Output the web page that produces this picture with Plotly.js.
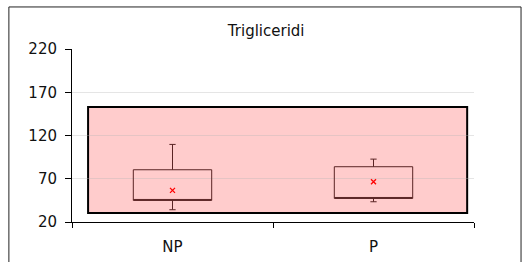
<!DOCTYPE html>
<html><head><meta charset="utf-8">
<script src="https://cdn.plot.ly/plotly-3.0.1.min.js"></script>
<style>html,body{margin:0;padding:0;background:#fff}#c{width:524px;height:262px}</style>
</head><body><div id="c"></div>
<script>
const categories = ['NP', 'P'];
const q1 = [44.9, 47.2];
const q3 = [80.4, 83.9];
const lowerWhisker = [34.2, 43.4];
const upperWhisker = [109.7, 92.7];
const means = [56.6, 66.5];
const refRange = [30.4, 153];
const yTicks = [20, 70, 120, 170, 220];

const font = {family: 'DejaVu Sans, sans-serif', size: 15, color: '#111'};

const traces = [
  {
    type: 'box', x: categories, q1: q1, median: q1, q3: q3,
    lowerfence: lowerWhisker, upperfence: upperWhisker,
    width: 0.39, whiskerwidth: 0.08, boxpoints: false,
    fillcolor: 'rgba(0,0,0,0)', line: {color: '#5a2424', width: 1},
    hoverinfo: 'skip', showlegend: false
  },
  {
    type: 'scatter', mode: 'markers', x: categories, y: means,
    marker: {symbol: 'x-thin-open', size: 5, color: '#ff0000', line: {color: '#ff0000', width: 1.3}},
    showlegend: false, hoverinfo: 'skip'
  }
];

const layout = {
  width: 524, height: 262,
  margin: {l: 72, r: 50, t: 49, b: 40},
  paper_bgcolor: '#fff', plot_bgcolor: 'rgba(0,0,0,0)',
  font: font,
  title: {text: 'Trigliceridi', font: {family: font.family, size: 15, color: '#111'}, x: 0.508, xanchor: 'center', y: 0.882, yanchor: 'middle'},
  xaxis: {
    type: 'category', range: [-0.5, 1.5], tickson: 'boundaries',
    ticks: 'outside', ticklen: 5, tickcolor: '#000', showline: true, linecolor: '#000', linewidth: 1,
    showgrid: false, ticklabelstandoff: 11, tickfont: {family: font.family, size: 15, color: '#111'}
  },
  yaxis: {
    range: [20, 220], tickvals: yTicks, ticktext: yTicks.map(String),
    ticks: 'outside', ticklen: 6, tickcolor: '#000', showline: true, linecolor: '#000', linewidth: 1,
    showgrid: true, gridcolor: 'rgba(180,180,180,0.35)', zeroline: false, ticklabelstandoff: 5,
    tickfont: {family: font.family, size: 15, color: '#111'}
  },
  shapes: [
    {type: 'rect', layer: 'below', xref: 'paper', yref: 'y', x0: 0.04, x1: 0.983, y0: refRange[0], y1: refRange[1],
     fillcolor: '#ffcccc', line: {color: '#000', width: 2}},
    {type: 'rect', layer: 'above', xref: 'paper', yref: 'paper', x0: -0.157, x1: 1.117, y0: -0.26, y1: 1.243,
     fillcolor: 'rgba(0,0,0,0)', line: {color: '#222', width: 1}}
  ]
};

Plotly.newPlot('c', traces, layout, {displayModeBar: false, staticPlot: true});
</script></body></html>
